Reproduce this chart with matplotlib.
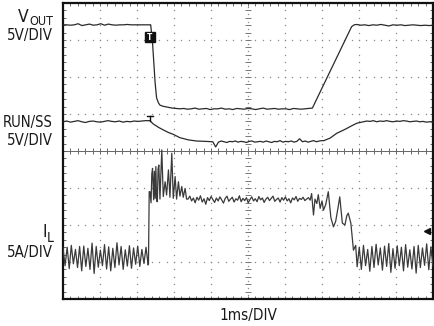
import numpy as np
import matplotlib
matplotlib.use("Agg")
import matplotlib.pyplot as plt
from matplotlib import font_manager

# ---- scope traces (units: divisions) ----
# VOUT
vout_pre = [3.41, 3.41, 3.40, 3.41, 3.44, 3.39, 3.41, 3.43, 3.40, 3.41, 3.44, 3.40,
            3.43, 3.41, 3.40, 3.41, 3.41, 3.42, 3.41, 3.41, 3.41, 3.41, 3.41, 3.41]
vout_fall_t = [2.37, 2.42, 2.49, 2.53, 2.58, 2.62, 2.70, 2.80, 2.95, 3.16]
vout_fall = [3.41, 2.92, 1.84, 1.43, 1.30, 1.24, 1.21, 1.19, 1.16, 1.14]
vout_low = [1.14, 1.15, 1.13, 1.14, 1.16, 1.13, 1.14, 1.15, 1.12, 1.14, 1.14, 1.16,
            1.13, 1.14, 1.12, 1.15, 1.14, 1.13, 1.15, 1.14, 1.12, 1.14, 1.16, 1.13,
            1.14, 1.15, 1.13, 1.14, 1.14, 1.12, 1.15, 1.14, 1.13, 1.14, 1.15, 1.16]
vout_rise_t = [6.74, 7.80, 7.87, 7.94]
vout_rise = [1.16, 3.36, 3.41, 3.42]
vout_post = [3.42, 3.40, 3.41, 3.39, 3.41, 3.40, 3.42, 3.40, 3.38, 3.41, 3.40,
             3.41, 3.39, 3.40, 3.41, 3.40, 3.39, 3.40, 3.39, 3.40]

# RUN/SS
rs_pre = [0.79, 0.81, 0.78, 0.80, 0.82, 0.79, 0.77, 0.80, 0.81, 0.79, 0.78, 0.80,
          0.82, 0.80, 0.79, 0.81, 0.78, 0.80, 0.79, 0.81, 0.80, 0.81, 0.82, 0.82]
rs_decay_t = [2.35, 2.44, 2.58, 2.71, 2.85, 2.98, 3.16, 3.39, 3.61, 3.85, 4.05]
rs_decay = [0.82, 0.73, 0.64, 0.57, 0.50, 0.45, 0.36, 0.30, 0.27, 0.26, 0.25]
rs_low = [0.25, 0.11, 0.24, 0.27, 0.25, 0.23, 0.26, 0.25, 0.27, 0.24, 0.26, 0.25,
          0.23, 0.26, 0.27, 0.24, 0.25, 0.26, 0.24, 0.27, 0.25, 0.23, 0.26, 0.25,
          0.28, 0.24, 0.26, 0.25, 0.27, 0.24, 0.26, 0.33, 0.25, 0.27, 0.24, 0.26,
          0.28, 0.25, 0.27, 0.28]
rs_rise_t = [7.05, 7.22, 7.40, 7.55, 7.67, 7.80, 7.94, 8.12]
rs_rise = [0.28, 0.35, 0.48, 0.55, 0.61, 0.68, 0.75, 0.79]
rs_post = [0.79, 0.81, 0.80, 0.82, 0.79, 0.81, 0.80, 0.82, 0.80, 0.79, 0.81,
           0.80, 0.82, 0.81, 0.79, 0.80, 0.81, 0.79, 0.80, 0.78, 0.79, 0.78]

# IL
il_pre = [-2.62, -3.10, -2.60, -3.18, -2.55, -3.05, -2.66, -3.15, -2.58, -3.24,
          -2.57, -3.12, -2.63, -3.20, -2.49, -3.31, -2.58, -3.14, -2.68, -3.10,
          -2.53, -3.19, -2.59, -3.24, -2.63, -3.15, -2.48, -3.08, -2.58, -3.20,
          -2.67, -3.11, -2.56, -3.17, -2.62, -3.06, -2.57, -3.12, -2.66, -3.04,
          -2.60, -3.08]
il_burst_t = [2.31, 2.33, 2.35, 2.38, 2.40, 2.42, 2.45, 2.47, 2.49, 2.51, 2.53,
              2.55, 2.57, 2.59, 2.62, 2.67, 2.71, 2.76, 2.80, 2.85, 2.89, 2.94,
              2.98, 3.03, 3.07, 3.12, 3.16, 3.21, 3.25, 3.30, 3.34]
il_burst = [-3.05, -1.10, -1.10, -1.40, -0.62, -0.47, -1.32, -0.55, -1.28, -0.42,
            -1.35, -1.37, -0.48, -0.38, -1.30, 0.03, -1.23, -0.83, -1.19, -0.51,
            -1.25, -0.06, -1.28, -0.69, -1.30, -0.83, -1.22, -0.96, -1.25, -1.01,
            -1.30]
il_flat = [-1.30, -1.22, -1.35, -1.27, -1.40, -1.25, -1.33, -1.21, -1.38, -1.29,
           -1.44, -1.26, -1.34, -1.23, -1.31, -1.39, -1.27, -1.35, -1.24, -1.32,
           -1.41, -1.28, -1.22, -1.36, -1.30, -1.25, -1.38, -1.29, -1.33, -1.21,
           -1.37, -1.28, -1.34, -1.26, -1.40, -1.31, -1.24, -1.35, -1.29, -1.37,
           -1.23, -1.32, -1.27, -1.39, -1.30, -1.25, -1.34, -1.28, -1.22, -1.36,
           -1.31, -1.27, -1.38, -1.26, -1.33, -1.24, -1.35, -1.29, -1.40, -1.27,
           -1.32, -1.23, -1.36, -1.28, -1.31, -1.25, -1.34, -1.30, -1.26, -1.33]
il_fall_t = [6.72, 6.77, 6.81, 6.86, 6.90, 6.95, 7.00, 7.04, 7.10, 7.17, 7.24,
             7.31, 7.37, 7.43, 7.48, 7.55, 7.62, 7.67, 7.71, 7.78, 7.85, 7.91]
il_fall = [-1.15, -1.73, -1.30, -1.42, -1.18, -1.55, -1.35, -1.60, -1.45, -1.10,
           -1.80, -2.05, -1.90, -1.55, -1.24, -1.95, -2.00, -1.75, -1.68, -1.95,
           -2.68, -2.55]
il_post = [-3.13, -2.60, -3.20, -2.55, -3.10, -2.66, -3.25, -2.58, -3.15, -2.52,
           -3.08, -2.62, -3.22, -2.57, -3.12, -2.50, -3.28, -2.64, -3.17, -2.56,
           -3.10, -2.60, -3.24, -2.53, -3.14, -2.67, -3.19, -2.58, -3.30, -2.55,
           -3.15, -2.62, -3.09, -2.51, -3.21, -2.59, -3.12]

# ---- fonts: the scope labels use a narrow sans; take one if it is there ----
narrow = None
for f in font_manager.fontManager.ttflist:
    if f.style != "normal" or f.weight not in (400, "normal", "regular"):
        continue
    if "Narrow" in f.name or "Condensed" in f.name or f.stretch in ("condensed", "semi-condensed"):
        if any(k in f.name for k in ("Liberation", "Roboto", "Open Sans", "Noto Sans", "DejaVu Sans")):
            narrow = f
            break
if narrow is not None:
    font_kw = dict(fontproperties=font_manager.FontProperties(fname=narrow.fname))
else:
    font_kw = dict(family="Liberation Sans")

W, H = 435, 326
fig = plt.figure(figsize=(W / 100, H / 100), dpi=100)
ax = fig.add_axes([63 / W, 27 / H, 370 / W, 296 / H])
ax.set_xlim(0, 10)
ax.set_ylim(-4, 4)

# graticule
sub = np.arange(0, 10.001, 0.2)
sub_y = np.arange(-4, 4.001, 0.2)
for gx in [1, 2, 3, 4, 6, 7, 8, 9]:
    ax.plot(np.full_like(sub_y, gx), sub_y, ls="none", marker="s", ms=0.9,
            mew=0, color="#8a8a8a", zorder=1)
for gy in [-3, -2, -1, 1, 2, 3]:
    ax.plot(sub, np.full_like(sub, gy), ls="none", marker="s", ms=0.9,
            mew=0, color="#8a8a8a", zorder=1)
ax.axhline(0, color="#666666", lw=0.7, zorder=1)
ax.plot(sub, np.zeros_like(sub), ls="none", marker="|", ms=5, mew=0.7,
        color="#666666", zorder=1)
ax.plot(np.full_like(sub_y, 5), sub_y, ls="none", marker="_", ms=5, mew=0.7,
        color="#777777", zorder=1)
ax.plot(np.full_like(sub_y, 5), sub_y + 0.1, ls="none", marker="s", ms=0.9,
        mew=0, color="#8a8a8a", zorder=1)

ax.set_xticks(sub)
ax.set_yticks(sub_y)
ax.tick_params(direction="in", length=2.5, width=0.6, color="#555555",
               top=True, right=True, labelbottom=False, labelleft=False)
for s in ax.spines.values():
    s.set_linewidth(1.6)
    s.set_color("#111111")

trace = dict(color="#2a2a2a", lw=0.9, zorder=3)

# VOUT
t_vout = np.concatenate([np.linspace(0, 2.35, len(vout_pre)), vout_fall_t,
                         np.linspace(3.16, 6.74, len(vout_low)), vout_rise_t,
                         np.linspace(7.94, 10, len(vout_post))])
y_vout = np.concatenate([vout_pre, vout_fall, vout_low, vout_rise, vout_post])
ax.plot(t_vout, y_vout, **trace)

# RUN/SS
t_rs = np.concatenate([np.linspace(0, 2.33, len(rs_pre)), rs_decay_t,
                       np.linspace(4.05, 7.0, len(rs_low)), rs_rise_t,
                       np.linspace(8.12, 10, len(rs_post))])
y_rs = np.concatenate([rs_pre, rs_decay, rs_low, rs_rise, rs_post])
ax.plot(t_rs, y_rs, **trace)

# IL
t_il = np.concatenate([np.linspace(0, 2.30, len(il_pre)), il_burst_t,
                       np.linspace(3.38, 6.68, len(il_flat)), il_fall_t,
                       np.linspace(7.95, 10, len(il_post))])
y_il = np.concatenate([il_pre, il_burst, il_flat, il_fall, il_post])
ax.plot(t_il, y_il, color="#3a3a3a", lw=0.9, zorder=3)

# trigger markers
ax.plot([2.35], [3.07], marker="s", ms=7, color="#111111", zorder=5)
ax.text(2.35, 3.07, "T", color="white", fontsize=5.5, ha="center",
        va="center", zorder=6, family="DejaVu Sans", weight="bold")
ax.plot([2.27, 2.43], [0.95, 0.95], color="#111111", lw=1.0, zorder=5)
ax.plot([2.35, 2.35], [0.80, 0.95], color="#111111", lw=1.0, zorder=5)
ax.plot([9.84], [-2.16], marker="<", ms=5, color="#111111", zorder=5)

# channel labels; size picked so each text spans the width it has in the reference
fig.canvas.draw()
renderer = fig.canvas.get_renderer()


def label(x, y, s, width, max_size=12.5, ha="right"):
    t = fig.text(x / W, 1 - y / H, s, fontsize=max_size, ha=ha, va="baseline",
                 color="#1a1a1a", **font_kw)
    w = t.get_window_extent(renderer).width
    if w > width:
        t.set_fontsize(max_size * width / w)
    return t


label(29, 22, "V", 14)
label(53, 25, "OUT", 24, max_size=10)
label(53, 40, "5V/DIV", 46)
label(53, 127, "RUN/SS", 50)
label(53, 145, "5V/DIV", 46)
label(47, 237, "I", 5)
label(54, 242, "L", 8, max_size=10)
label(53, 257, "5A/DIV", 46)
label(248, 320, "1ms/DIV", 58, ha="center")

fig.savefig("out.png", dpi=100)
